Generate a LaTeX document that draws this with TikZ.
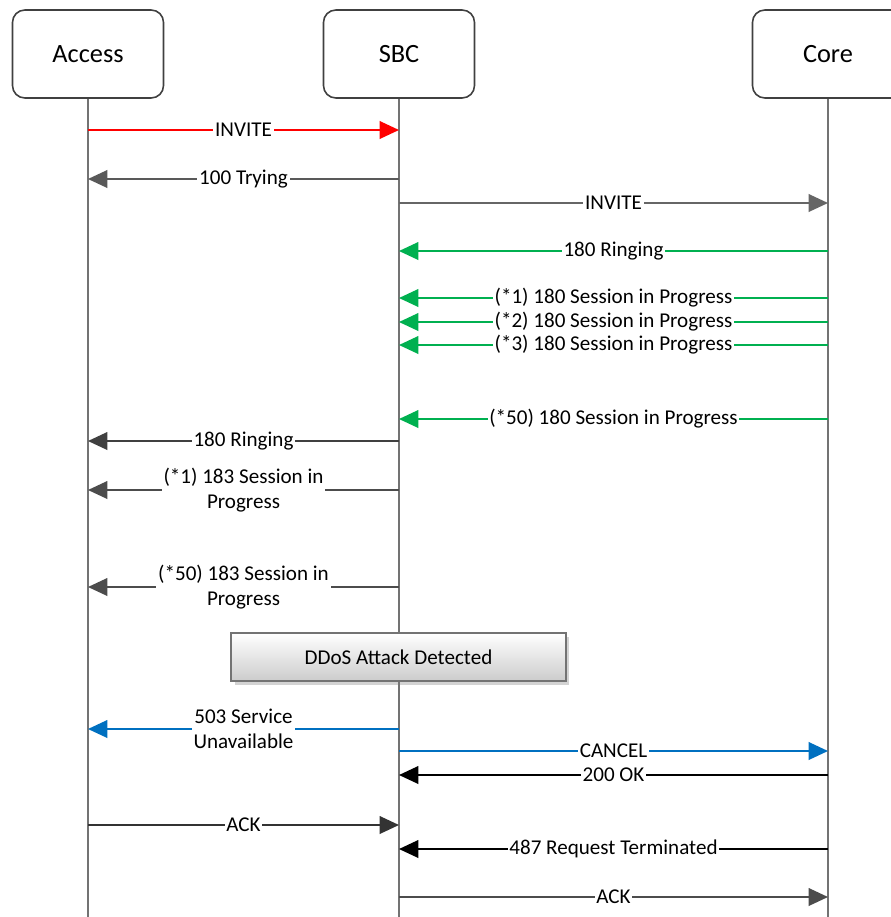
\documentclass[tikz,border=0pt]{standalone}
\usepackage{fontspec}
\setmainfont{Carlito}
\usetikzlibrary{arrows.meta, positioning, shadows}

\definecolor{sipred}{RGB}{255,0,0}
\definecolor{sipgreen}{RGB}{0,176,80}
\definecolor{sipblue}{RGB}{0,112,192}

\begin{document}
\begin{tikzpicture}[
    x=0.02cm, y=-0.02cm,
    actor/.style={draw=black!75, line width=0.9pt, rounded corners=7pt, minimum width=3.02cm, minimum height=1.76cm, font=\fontsize{15}{18}\selectfont},
    life/.style={draw=black!55, line width=1.1pt},
    msg/.style={-{Triangle[length=11pt, width=10pt]}, line width=1.1pt},
    lbl/.style={fill=white, text=black, inner sep=1pt, align=center, font=\fontsize{12}{14}\selectfont},
    alert/.style={draw=black!55, line width=0.8pt, top color=white, bottom color=black!20, minimum width=6.7cm, minimum height=0.96cm, font=\fontsize{12}{14}\selectfont, drop shadow={opacity=0.35, shadow xshift=2pt, shadow yshift=-2pt}}
    ]
    \useasboundingbox (0,0) rectangle (891,917);

    % lifeline heads
    \node[actor] (acc) at (88,54) {Access};
    \node[actor] (sbc) at (399,54) {SBC};
    \node[actor] (core) at (828,54) {Core};
    \coordinate (acc-end) at (88,917);
    \coordinate (sbc-end) at (399,917);
    \coordinate (core-end) at (828,917);
    \draw[life] (acc) -- (acc-end);
    \draw[life] (sbc) -- (sbc-end);
    \draw[life] (core) -- (core-end);

    % one row of points per message
    \foreach \n/\y in {inv/130, try/179, inv2/203, ring/251, sp1/298, sp2/322, sp3/345, sp50/419,
                       ring2/441, sq1/490, sq50/587, unav/729, cancel/751, ok/775, ack/825, term/849, ack2/897}{
        \coordinate (a-\n) at (88,\y);
        \coordinate (s-\n) at (399,\y);
        \coordinate (c-\n) at (828,\y);
    }

    \draw[msg, sipred] (a-inv) -- (s-inv) node[lbl, midway] {INVITE};
    \draw[msg, black!65] (s-try) -- (a-try) node[lbl, midway] {100 Trying};
    \draw[msg, black!60] (s-inv2) -- (c-inv2) node[lbl, midway] {INVITE};
    \draw[msg, sipgreen] (c-ring) -- (s-ring) node[lbl, midway] {180 Ringing};
    \draw[msg, sipgreen] (c-sp1) -- (s-sp1) node[lbl, midway] {(*1) 180 Session in Progress};
    \draw[msg, sipgreen] (c-sp2) -- (s-sp2) node[lbl, midway] {(*2) 180 Session in Progress};
    \draw[msg, sipgreen] (c-sp3) -- (s-sp3) node[lbl, midway] {(*3) 180 Session in Progress};
    \draw[msg, sipgreen] (c-sp50) -- (s-sp50) node[lbl, midway] {(*50) 180 Session in Progress};
    \draw[msg, black!75] (s-ring2) -- (a-ring2) node[lbl, midway] {180 Ringing};
    \draw[msg, black!70] (s-sq1) -- (a-sq1) node[lbl, midway] {(*1) 183 Session in\\Progress};
    \draw[msg, black!70] (s-sq50) -- (a-sq50) node[lbl, midway] {(*50) 183 Session in\\Progress};

    \node[alert] (ddos) at (398.5,657) {DDoS Attack Detected};

    \draw[msg, sipblue] (s-unav) -- (a-unav) node[lbl, midway] {503 Service\\Unavailable};
    \draw[msg, sipblue] (s-cancel) -- (c-cancel) node[lbl, midway] {CANCEL};
    \draw[msg, black] (c-ok) -- (s-ok) node[lbl, midway] {200 OK};
    \draw[msg, black!80] (a-ack) -- (s-ack) node[lbl, midway] {ACK};
    \draw[msg, black] (c-term) -- (s-term) node[lbl, midway] {487 Request Terminated};
    \draw[msg, black!70] (s-ack2) -- (c-ack2) node[lbl, midway] {ACK};
\end{tikzpicture}
\end{document}
